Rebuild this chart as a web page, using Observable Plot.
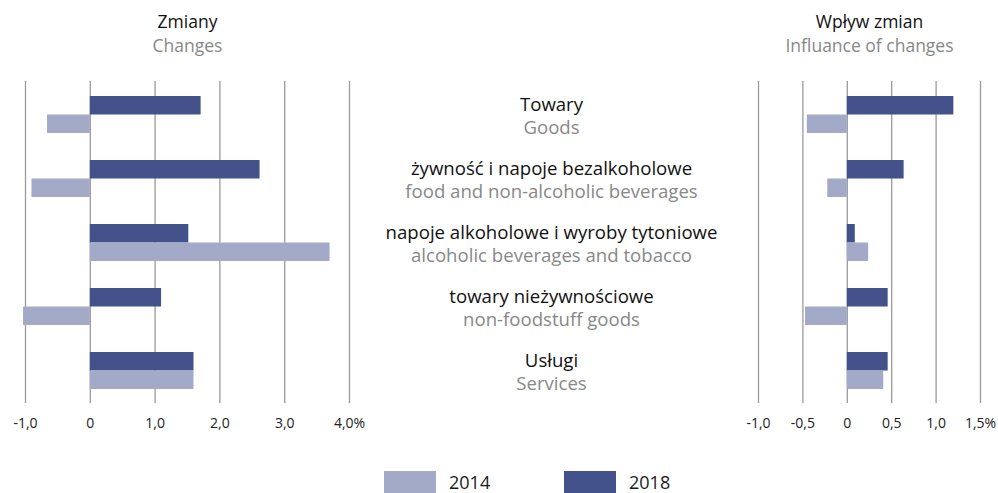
<!DOCTYPE html>
<html>
<head>
<meta charset="utf-8">
<script src="https://cdn.jsdelivr.net/npm/d3@7"></script>
<script src="https://cdn.jsdelivr.net/npm/@observablehq/plot@0.6"></script>
<style>
  html, body { margin: 0; padding: 0; background: #fff; }
  #wrap { position: relative; width: 998px; height: 493px; overflow: hidden; font-family: "Open Sans", sans-serif; }
  #wrap svg { position: absolute; left: 0; top: 0; }
  .sw { position: absolute; width: 52px; height: 22px; }
  .lt { position: absolute; font-size: 18px; color: #1a1a1a; line-height: 22px; }
</style>
</head>
<body>
<div id="wrap"></div>
<script>
const categoriesPL = ["Towary", "żywność i napoje bezalkoholowe", "napoje alkoholowe i wyroby tytoniowe", "towary nieżywnościowe", "Usługi"];
const categoriesEN = ["Goods", "food and non-alcoholic beverages", "alcoholic beverages and tobacco", "non-foodstuff goods", "Services"];
const changes2014 = [-0.66, -0.90, 3.70, -1.03, 1.60];
const changes2018 = [1.71, 2.62, 1.52, 1.10, 1.60];
const influence2014 = [-0.45, -0.22, 0.24, -0.47, 0.41];
const influence2018 = [1.20, 0.64, 0.09, 0.46, 0.46];
const years = ["2014", "2018"];
const yearColors = ["#a3aac7", "#43528b"];
const leftTicks = [-1, 0, 1, 2, 3, 4];
const leftTickLabels = ["-1,0", "0", "1,0", "2,0", "3,0", "4,0%"];
const rightTicks = [-1, -0.5, 0, 0.5, 1, 1.5];
const rightTickLabels = ["-1,0", "-0,5", "0", "0,5", "1,0", "1,5%"];
const titleLeft = ["Zmiany", "Changes"];
const titleRight = ["Wpływ zmian", "Influance of changes"];

const rows = (a14, a18) => categoriesPL.map((c, i) => ({cat: c, en: categoriesEN[i], v14: a14[i], v18: a18[i]}));
const W = 998, H = 440;
const yOpts = {domain: categoriesPL, paddingInner: 0.425, paddingOuter: 0.2125, axis: null};
const font = '"Open Sans", sans-serif';

function panel(data, ticks, labels, domain, ml, mr, titles, withLabels) {
  const fmt = d => labels[ticks.indexOf(d)];
  const marks = [
    Plot.ruleX(ticks, {stroke: "#9a9a9a", strokeWidth: 1.3}),
    Plot.barX(data, {x: "v18", y: "cat", fill: yearColors[1], insetBottom: 18.5}),
    Plot.barX(data, {x: "v14", y: "cat", fill: yearColors[0], insetTop: 18.5}),
    Plot.axisX({ticks, tickFormat: fmt, tickSize: 0, tickPadding: 15, label: null, fill: "#222"}),
    Plot.text([titles[0]], {frameAnchor: "top", dy: -66, fontSize: 17.5, fill: "#111"}),
    Plot.text([titles[1]], {frameAnchor: "top", dy: -42, fontSize: 17.5, fill: "#888"})
  ];
  if (withLabels) {
    marks.push(Plot.text(data, {y: "cat", text: "cat", frameAnchor: "right", dx: 202, dy: -10, textAnchor: "middle", fontSize: 18.6, fill: "#111"}));
    marks.push(Plot.text(data, {y: "cat", text: "en", frameAnchor: "right", dx: 202, dy: 13, textAnchor: "middle", fontSize: 18.6, fill: "#888"}));
  }
  return Plot.plot({
    width: W, height: H,
    marginLeft: ml, marginRight: mr, marginTop: 81, marginBottom: H - 403,
    x: {domain, axis: null},
    y: yOpts,
    style: {background: "transparent", fontFamily: font, fontSize: "14px", color: "#222"},
    marks
  });
}

const wrap = document.getElementById("wrap");
wrap.appendChild(panel(rows(changes2014, changes2018), leftTicks, leftTickLabels, [-1, 4], 25, W - 349, titleLeft, true));
wrap.appendChild(panel(rows(influence2014, influence2018), rightTicks, rightTickLabels, [-1, 1.5], 758, W - 980, titleRight, false));

const legendPos = [384, 564];
years.forEach((y, i) => {
  const s = document.createElement("div");
  s.className = "sw"; s.style.left = legendPos[i] + "px"; s.style.top = "471px"; s.style.background = yearColors[i];
  const t = document.createElement("div");
  t.className = "lt"; t.style.left = (legendPos[i] + 65) + "px"; t.style.top = "471px"; t.textContent = y;
  wrap.appendChild(s); wrap.appendChild(t);
});
</script>
</body>
</html>
